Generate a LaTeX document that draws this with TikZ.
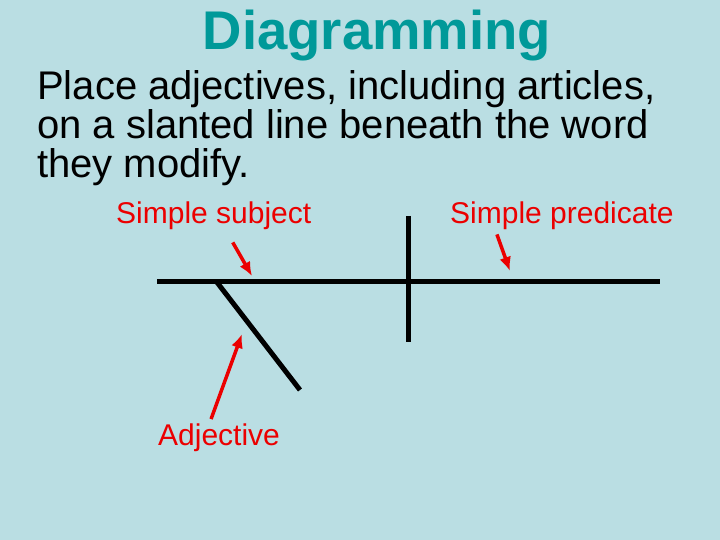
\documentclass[tikz,border=0pt]{standalone}
\usepackage{fontspec}
\setmainfont{Liberation Sans}
\usepackage{tikz}
\usetikzlibrary{arrows.meta,positioning,calc}
\usepackage{xcolor}
\definecolor{slidebg}{RGB}{186,222,227}
\definecolor{titleteal}{RGB}{0,153,153}
\definecolor{labelred}{RGB}{235,0,0}

\begin{document}
\begin{tikzpicture}[x=1pt, y=-1pt,
    diagline/.style={line width=5pt, black},
    pointer/.style={line width=3.5pt, labelred, -{Latex[length=14pt,width=12pt]}},
    redlabel/.style={anchor=base west, inner sep=0pt, text=labelred, font=\fontsize{30}{32}\selectfont}]
    % Fond
    \fill[slidebg] (0,0) rectangle (720,540);
    \useasboundingbox (0,0) rectangle (720,540);

    % Titre
    \node[anchor=base, inner sep=0pt, text=titleteal, font=\bfseries\fontsize{54.5}{60}\selectfont] (title) at (377,50) {Diagramming};

    % Texte
    \node[anchor=base west, inner sep=0pt, align=left, font=\fontsize{40}{39}\selectfont] (rule) at (37,178)
        {Place adjectives, including articles,\\on a slanted line beneath the word\\they modify.};

    % Schéma
    \coordinate (baseL) at (157,281);
    \coordinate (baseR) at (660,281);
    \coordinate (divT) at (408,216);
    \coordinate (divB) at (408,342);
    \coordinate (slantT) at (216,281);
    \coordinate (slantB) at (300,390);
    \draw[diagline] (baseL) -- (baseR);
    \draw[diagline] (divT) -- (divB);
    \draw[diagline] (slantT) -- (slantB);

    % Étiquettes
    \node[redlabel] (subject) at (116,224) {Simple subject};
    \node[redlabel] (predicate) at (450,224) {Simple predicate};
    \node[redlabel] (adjective) at (158,445) {Adjective};

    % Flèches
    \coordinate (subjTip) at (252,276);
    \coordinate (predTip) at (510,271);
    \coordinate (adjTip) at (242,334);
    \draw[pointer] ($(subject.south)+(19,12)$) -- (subjTip);
    \draw[pointer] ($(predicate.south)+(-65,4)$) -- (predTip);
    \draw[pointer] ($(adjective.north)+(-8,-4)$) -- (adjTip);
\end{tikzpicture}
\end{document}
